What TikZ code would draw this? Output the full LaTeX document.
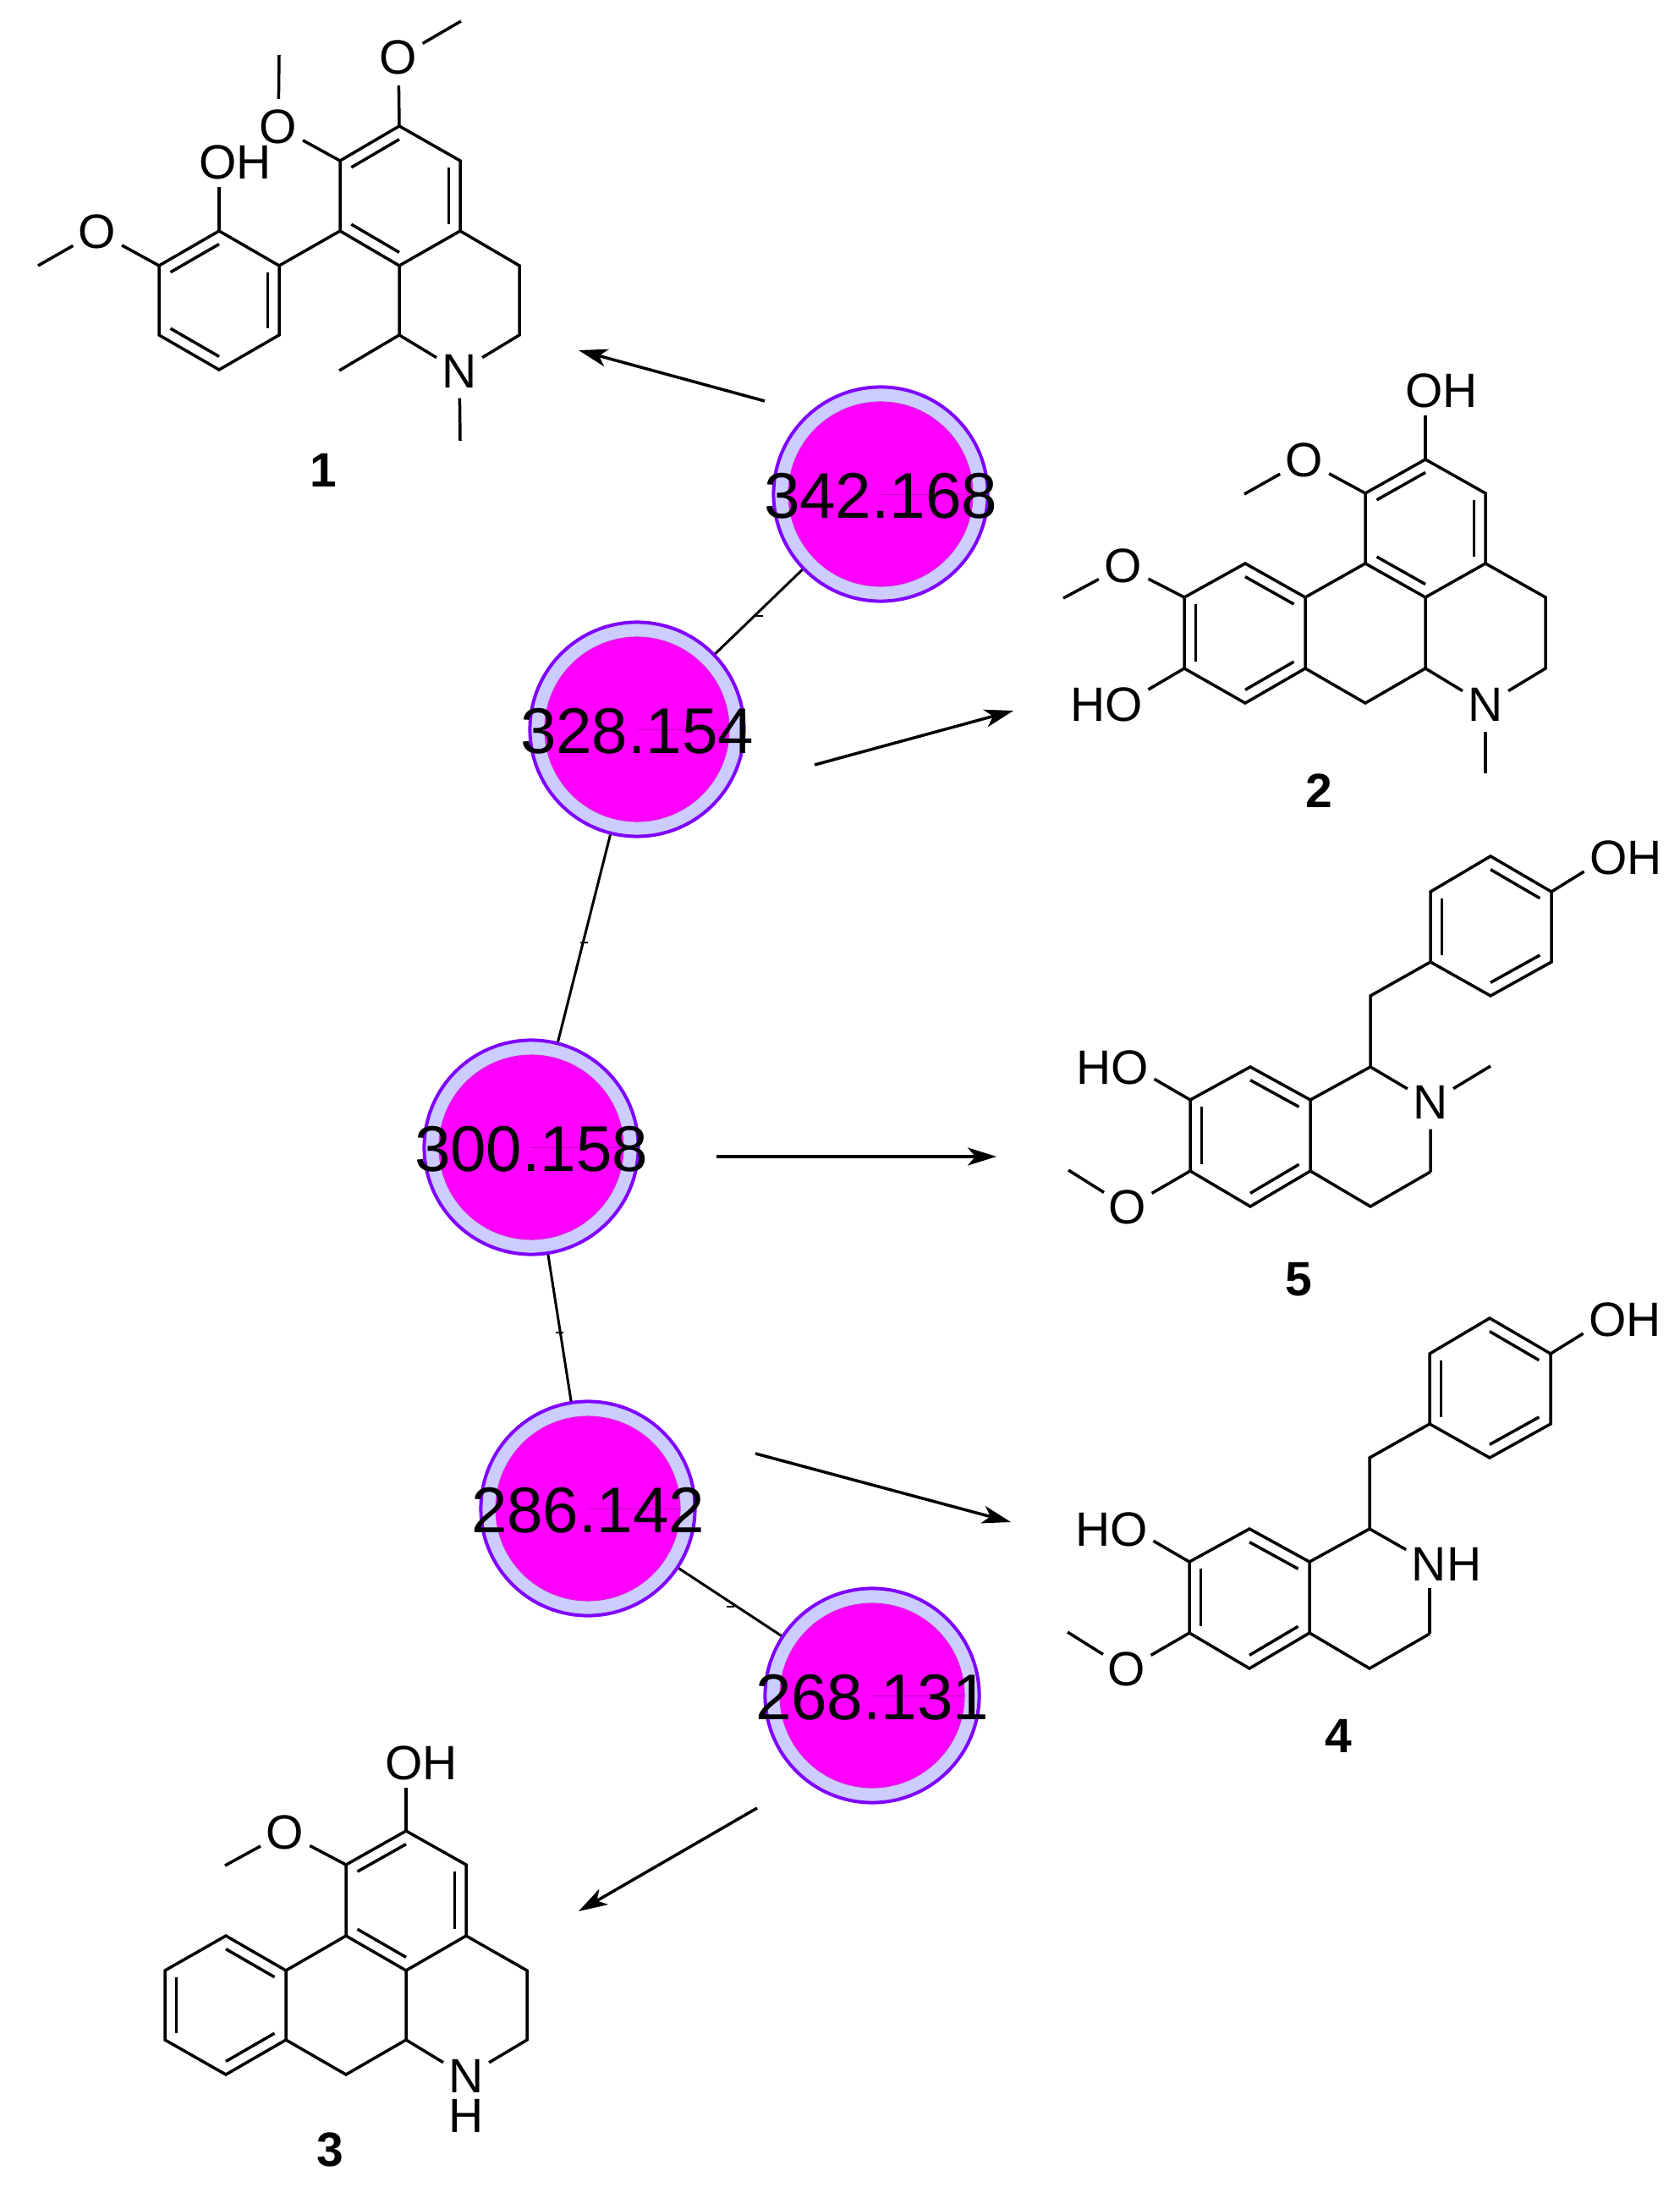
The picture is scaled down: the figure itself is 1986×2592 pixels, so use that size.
\documentclass[tikz,border=0pt]{standalone}
\usepackage{fontspec}
\setmainfont{Liberation Sans}
\usetikzlibrary{arrows.meta, calc}

\definecolor{ioncore}{HTML}{FF00FF}
\definecolor{ionring}{HTML}{CCCCFF}
\definecolor{ionedge}{HTML}{7F00FF}

\newcommand{\dblbond}[3]{\draw[bond] ($(#1)!.19!(#3)$) -- ($(#2)!.19!(#3)$);}
\newcommand{\ionlab}[1]{\makebox[0pt]{\smash{\raisebox{-.285cm}{#1}}}}

\tikzset{
  bond/.style={line width=.035cm},
  edge/.style={line width=.03cm},
  react/.style={line width=.035cm, -{Stealth[length=.34cm, width=.21cm, inset=.09cm]}},
  edgetick/.style={fill=black, inner sep=0pt, minimum width=.09cm, minimum height=.02cm, yshift=-.05cm},
  atom/.style={circle, inner sep=.5pt, font=\fontsize{16.2}{19}\selectfont},
  group/.style={inner xsep=.06cm, inner ysep=.08cm, font=\fontsize{16.2}{19}\selectfont},
  cmpdnum/.style={inner sep=0pt, font=\fontsize{16.2}{19}\selectfont\bfseries},
  ion/.style={circle, inner sep=0pt, minimum size=2.53cm, draw=ionedge, line width=.04cm, fill=ionring,
    font=\fontsize{21.7}{24}\selectfont,
    path picture={
      \draw[draw=ioncore!70!gray, fill=ioncore, line width=.01cm] (path picture bounding box.center) circle (1.09cm);
      \draw[ioncore!75!black, line width=.008cm] (path picture bounding box.center) -- ++(1.09cm,0);
    }}
}

\begin{document}
\begin{tikzpicture}[x=.01cm, y=-.01cm]
\useasboundingbox (0,0) rectangle (1986,2592);

\node[ion] (n342) at (1041,584) {\ionlab{342.168}};
\node[ion] (n328) at (753,862) {\ionlab{328.154}};
\node[ion] (n300) at (628,1356) {\ionlab{300.158}};
\node[ion] (n286) at (695,1783) {\ionlab{286.142}};
\node[ion] (n268) at (1031,2004) {\ionlab{268.131}};

\draw[edge] (n342) -- node[edgetick] (t1) {} (n328);
\draw[edge] (n328) -- node[edgetick] (t2) {} (n300);
\draw[edge] (n300) -- node[edgetick] (t3) {} (n286);
\draw[edge] (n286) -- node[edgetick] (t4) {} (n268);

\coordinate (A1s) at (904,474);
\coordinate (A1e) at (684,414);
\coordinate (A2s) at (963,904);
\coordinate (A2e) at (1198,840);
\coordinate (A5s) at (847,1367);
\coordinate (A5e) at (1178,1367);
\coordinate (A4s) at (893,1718);
\coordinate (A4e) at (1195,1799);
\coordinate (A3s) at (895,2137);
\coordinate (A3e) at (684,2259);
\draw[react] (A1s) -- (A1e);
\draw[react] (A2s) -- (A2e);
\draw[react] (A5s) -- (A5e);
\draw[react] (A4s) -- (A4e);
\draw[react] (A3s) -- (A3e);

\foreach \n/\x/\y in {a1/472/149, a2/402/190, a3/402/273, a4/472/314, a5/544/273, a6/544/190,
    a7/614/314, a8/614/396, a9/472/396, b1/259/273, b2/330/314, b3/330/396, b4/259/437,
    b5/188/396, b6/188/314, aMe1/545/25, aMe2/330/65, aMe3/45/314, aMe4/401/438, aMe5/544/521}
  \coordinate (\n) at (\x,\y);
\coordinate (ar) at ($(a1)!.5!(a4)$);
\coordinate (br) at ($(b1)!.5!(b4)$);
\node[atom] (aO1) at (471,68) {O};
\node[atom] (aO2) at (329,150) {O};
\node[atom] (aO3) at (115,274) {O};
\node[atom] (aN) at (543,439) {N};
\node[group] (aOH) at (278,192) {OH};
\node[cmpdnum] (L1) at (382,556) {1};
\draw[bond] (a1) -- (a2) -- (a3) -- (a4) -- (a5) -- (a6) -- cycle;
\draw[bond] (b1) -- (b2) -- (b3) -- (b4) -- (b5) -- (b6) -- cycle;
\draw[bond] (a5) -- (a7) -- (a8) -- (aN) -- (a9) -- (a4);
\draw[bond] (a3) -- (b2);
\draw[bond] (a1) -- (aO1) -- (aMe1);
\draw[bond] (a2) -- (aO2) -- (aMe2);
\draw[bond] (b6) -- (aO3) -- (aMe3);
\draw[bond] (b1) -- (aOH.south -| b1);
\draw[bond] (a9) -- (aMe4);
\draw[bond] (aN) -- (aMe5);
\dblbond{a1}{a2}{ar} \dblbond{a3}{a4}{ar} \dblbond{a5}{a6}{ar}
\dblbond{b1}{b6}{br} \dblbond{b2}{b3}{br} \dblbond{b4}{b5}{br}

\foreach \n/\x/\y in {c1/1685/543, c2/1614/583, c3/1614/666, c4/1685/706, c5/1756/666, c6/1756/583,
    c7/1827/706, c8/1827/790, c9/1685/790, c10/1614/831, d1/1543/706, d2/1543/790, d3/1472/831,
    d4/1400/790, d5/1400/706, d6/1472/666, cMe1/1471/584, cMe2/1257/707, cMe3/1756/914}
  \coordinate (\n) at (\x,\y);
\coordinate (cr) at ($(c1)!.5!(c4)$);
\coordinate (dr) at ($(d3)!.5!(d6)$);
\node[atom] (cO1) at (1542,544) {O};
\node[atom] (cO2) at (1328,669) {O};
\node[atom] (cN) at (1756,833) {N};
\node[group] (cOH) at (1704,462) {OH};
\node[group] (cHO) at (1308,833) {HO};
\node[cmpdnum] (L2) at (1559,935) {2};
\draw[bond] (c1) -- (c2) -- (c3) -- (c4) -- (c5) -- (c6) -- cycle;
\draw[bond] (d1) -- (d2) -- (d3) -- (d4) -- (d5) -- (d6) -- cycle;
\draw[bond] (c5) -- (c7) -- (c8) -- (cN) -- (c9) -- (c4);
\draw[bond] (c3) -- (d1);
\draw[bond] (d2) -- (c10) -- (c9);
\draw[bond] (c2) -- (cO1) -- (cMe1);
\draw[bond] (d5) -- (cO2) -- (cMe2);
\draw[bond] (c1) -- (cOH.south -| c1);
\draw[bond] (d4) -- (cHO.20);
\draw[bond] (cN) -- (cMe3);
\dblbond{c1}{c2}{cr} \dblbond{c3}{c4}{cr} \dblbond{c5}{c6}{cr}
\dblbond{d1}{d6}{dr} \dblbond{d2}{d3}{dr} \dblbond{d4}{d5}{dr}

\foreach \pre/\dx/\dy in {h/0/0, k/-1/546} {
  \foreach \n/\x/\y in {1/1762/1012, 2/1834/1054, 3/1834/1137, 4/1762/1177, 5/1691/1137, 6/1691/1054,
      7/1620/1177, 8/1620/1261, 9/1691/1385, 10/1620/1426, 11/1549/1384, 12/1549/1300,
      13/1478/1261, 14/1407/1300, 15/1407/1384, 16/1478/1426, Me/1263/1383}
    \coordinate (\pre\n) at (\x+\dx,\y+\dy);
  \coordinate (\pre r1) at ($(\pre1)!.5!(\pre4)$);
  \coordinate (\pre r2) at ($(\pre13)!.5!(\pre16)$);
  \node[atom] (\pre O) at (1333+\dx,1427+\dy) {O};
  \node[group] (\pre HO) at (1315+\dx,1262+\dy) {HO};
  \node[group] (\pre OH) at (1922+\dx,1014+\dy) {OH};
  \draw[bond] (\pre1) -- (\pre2) -- (\pre3) -- (\pre4) -- (\pre5) -- (\pre6) -- cycle;
  \draw[bond] (\pre12) -- (\pre13) -- (\pre14) -- (\pre15) -- (\pre16) -- (\pre11) -- cycle;
  \draw[bond] (\pre5) -- (\pre7) -- (\pre8) -- (\pre12);
  \draw[bond] (\pre11) -- (\pre10) -- (\pre9);
  \draw[bond] (\pre15) -- (\pre O) -- (\pre Me);
  \draw[bond] (\pre14) -- (\pre HO.-15);
  \draw[bond] (\pre2) -- (\pre OH.198);
  \dblbond{\pre1}{\pre2}{\pre r1} \dblbond{\pre3}{\pre4}{\pre r1} \dblbond{\pre5}{\pre6}{\pre r1}
  \dblbond{\pre12}{\pre13}{\pre r2} \dblbond{\pre14}{\pre15}{\pre r2} \dblbond{\pre16}{\pre11}{\pre r2}
}
\coordinate (hMe2) at (1762,1260);
\node[atom] (hN) at (1691,1303) {N};
\node[group] (kNH) at (1710,1849) {NH};
\node[cmpdnum] (L5) at (1535,1512) {5};
\node[cmpdnum] (L4) at (1582,2052) {4};
\draw[bond] (h8) -- (hN) -- (h9);
\draw[bond] (hN) -- (hMe2);
\draw[bond] (k8) -- (kNH.160);
\draw[bond] (k9) -- (kNH.south -| k9);

\foreach \n/\x/\y in {f1/480/2164, f2/409/2204, f3/409/2288, f4/480/2329, f5/551/2288, f6/551/2204,
    f7/623/2329, f8/623/2411, f9/480/2411, f10/409/2452, g1/338/2329, g2/338/2411, g3/267/2452,
    g4/195/2411, g5/195/2329, g6/267/2288, fMe/266/2205}
  \coordinate (\n) at (\x,\y);
\coordinate (fr) at ($(f1)!.5!(f4)$);
\coordinate (gr) at ($(g3)!.5!(g6)$);
\node[atom] (fO) at (337,2166) {O};
\node[atom] (fN) at (551,2454) {N};
\node[atom] (fH) at (551,2501) {H};
\node[group] (fOH) at (498,2084) {OH};
\node[cmpdnum] (L3) at (390,2541) {3};
\draw[bond] (f1) -- (f2) -- (f3) -- (f4) -- (f5) -- (f6) -- cycle;
\draw[bond] (g1) -- (g2) -- (g3) -- (g4) -- (g5) -- (g6) -- cycle;
\draw[bond] (f5) -- (f7) -- (f8) -- (fN) -- (f9) -- (f4);
\draw[bond] (f3) -- (g1);
\draw[bond] (g2) -- (f10) -- (f9);
\draw[bond] (f2) -- (fO) -- (fMe);
\draw[bond] (f1) -- (fOH.south -| f1);
\dblbond{f1}{f2}{fr} \dblbond{f3}{f4}{fr} \dblbond{f5}{f6}{fr}
\dblbond{g1}{g6}{gr} \dblbond{g2}{g3}{gr} \dblbond{g4}{g5}{gr}

\end{tikzpicture}
\end{document}
